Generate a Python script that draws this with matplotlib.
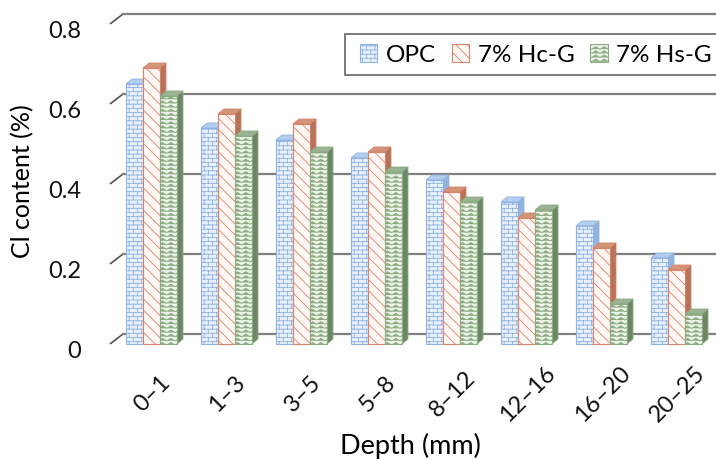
import warnings
warnings.filterwarnings("ignore")
import matplotlib
matplotlib.use("Agg")
import matplotlib.pyplot as plt
import matplotlib.patches as mpatches
from matplotlib import hatch as mhatch
from matplotlib.path import Path
import numpy as np

categories = ["0–1", "1–3", "3–5", "5–8", "8–12", "12–16", "16–20", "20–25"]
series_names = ["OPC", "7% Hc-G", "7% Hs-G"]
opc = [0.65, 0.54, 0.51, 0.465, 0.41, 0.355, 0.295, 0.215]
hcg = [0.69, 0.575, 0.55, 0.48, 0.38, 0.315, 0.24, 0.185]
hsg = [0.62, 0.52, 0.48, 0.43, 0.355, 0.335, 0.10, 0.075]
yticks = [0, 0.2, 0.4, 0.6, 0.8]
ytick_labels = ["0", "0.2", "0.4", "0.6", "0.8"]


class BrickHatch(mhatch.HatchPatternBase):
    def __init__(self, hatch, density):
        self.n = int(hatch.count('b') * density)
        if self.n % 2:
            self.n += 1
        n = self.n
        self.num_vertices = 2 * (n + 1) + 2 * n * (n // 2) if n else 0

    def set_vertices_and_codes(self, vertices, codes):
        n = self.n
        k = 0
        for i in range(n + 1):
            y = i / n
            vertices[k] = (0, y); vertices[k + 1] = (1, y)
            codes[k] = Path.MOVETO; codes[k + 1] = Path.LINETO
            k += 2
        w = 2.0 / n
        for i in range(n):
            off = 0 if i % 2 == 0 else w / 2
            for j in range(n // 2):
                x = (off + j * w) % 1.0
                vertices[k] = (x, i / n); vertices[k + 1] = (x, (i + 1) / n)
                codes[k] = Path.MOVETO; codes[k + 1] = Path.LINETO
                k += 2


class ZigzagHatch(mhatch.HatchPatternBase):
    def __init__(self, hatch, density):
        self.n = int(hatch.count('z') * density)
        self.m = self.n
        self.num_vertices = self.n * (self.m + 1) if self.n else 0

    def set_vertices_and_codes(self, vertices, codes):
        n, m = self.n, self.m
        k = 0
        amp = 0.3 / n
        for i in range(n):
            y0 = (i + 0.5) / n
            for j in range(m + 1):
                x = j / m
                vertices[k] = (x, y0 + (amp if j % 2 else -amp))
                codes[k] = Path.MOVETO if j == 0 else Path.LINETO
                k += 1


mhatch._hatch_types.append(BrickHatch)
mhatch._hatch_types.append(ZigzagHatch)

plt.rcParams['font.family'] = ['Lato', 'DejaVu Sans']
plt.rcParams['hatch.linewidth'] = 0.6

W, H = 716, 459
fig = plt.figure(figsize=(W / 100, H / 100), dpi=100)
left_px, right_px, bot_px, top_px = 110, 703, 344, 24
ax = fig.add_axes([left_px / W, 1 - bot_px / H, (right_px - left_px) / W, (bot_px - top_px) / H])
ax.set_axis_off()

grp_px = 75.0
first_center_px = 151.5
x0 = (left_px - first_center_px) / grp_px
x1 = (right_px - first_center_px) / grp_px
ax.set_xlim(x0, x1)
ax.set_ylim(0, 0.8)

px_x = (x1 - x0) / (right_px - left_px)
px_y = 0.8 / (bot_px - top_px)

wall_dx, wall_dy = 13 * px_x, 10 * px_y
bar_dx, bar_dy = 6 * px_x, 5 * px_y

grid_c = "#7f7f7f"
for yv in yticks:
    ax.plot([x0, x0 + wall_dx], [yv, yv + wall_dy], color="#555555", lw=1.2,
            clip_on=False, zorder=1, solid_capstyle='butt')
    ax.plot([x0 + wall_dx, x1 + 2], [yv + wall_dy, yv + wall_dy], color=grid_c,
            lw=1.6, clip_on=False, zorder=1)

styles = [
    dict(face="#e8f0fb", edge="#8db2e3", hatch="bbbb", top="#b3cdee", side="#93b3de"),
    dict(face="#fff7f3", edge="#d8826a", hatch="\\\\\\", top="#d39579", side="#b5735a"),
    dict(face="#ecf3e7", edge="#8cab83", hatch="zzzz", top="#9ab393", side="#6b8763"),
]
bw = 17 * px_x
data = [opc, hcg, hsg]
xs = np.arange(len(categories))
z = 2
for i in range(len(categories)):
    for s in range(3):
        st = styles[s]
        h = data[s][i]
        xl = xs[i] + (s - 1.5) * bw
        xr = xl + bw
        side = mpatches.Polygon([[xr, 0], [xr + bar_dx, bar_dy], [xr + bar_dx, h + bar_dy], [xr, h]],
                                closed=True, facecolor=st["side"], edgecolor=st["edge"],
                                lw=0.6, zorder=z, clip_on=False)
        top = mpatches.Polygon([[xl, h], [xr, h], [xr + bar_dx, h + bar_dy], [xl + bar_dx, h + bar_dy]],
                               closed=True, facecolor=st["top"], edgecolor=st["edge"],
                               lw=0.6, zorder=z, clip_on=False)
        ax.add_patch(side)
        ax.add_patch(top)
        ax.bar(xl, h, width=bw, align='edge', facecolor=st["face"], edgecolor=st["edge"],
               hatch=st["hatch"], lw=0.8, zorder=z + 0.5, clip_on=False)
        z += 1

for yv, lab in zip(yticks, ytick_labels):
    ax.text(x0 - 29 * px_x, yv - 8 * px_y, lab, ha='right', va='center', fontsize=17, color="#111111")

for i, lab in enumerate(categories):
    ax.text(xs[i] + 1 * px_x, -50 * px_y, lab, ha='center', va='center', rotation=45,
            rotation_mode='anchor', fontsize=17, color="#111111", clip_on=False)

fig.text(23 / W, 1 - 181 / H, "Cl content (%)", rotation=90, ha='center', va='center', fontsize=18)
fig.text(410 / W, 1 - 446 / H, "Depth (mm)", ha='center', va='center', fontsize=19.5)

fig.patches.append(mpatches.Rectangle((345 / W, 1 - 75 / H), (W + 10 - 345) / W, 41 / H,
                                      transform=fig.transFigure, facecolor="white",
                                      edgecolor="#6f6f6f", lw=1.3, zorder=5))
handles = [mpatches.Patch(facecolor=st["face"], edgecolor=st["edge"], hatch=st["hatch"], lw=0.8)
           for st in styles]
leg = fig.legend(handles, series_names, ncol=3, loc='center left',
                 bbox_to_anchor=(360 / W, 1 - 55 / H), fontsize=17.5, frameon=False,
                 handlelength=0.7, handleheight=0.7, handletextpad=0.36, columnspacing=0.66,
                 borderpad=0, borderaxespad=0)
leg.set_zorder(6)

fig.savefig("out.png", dpi=100)
